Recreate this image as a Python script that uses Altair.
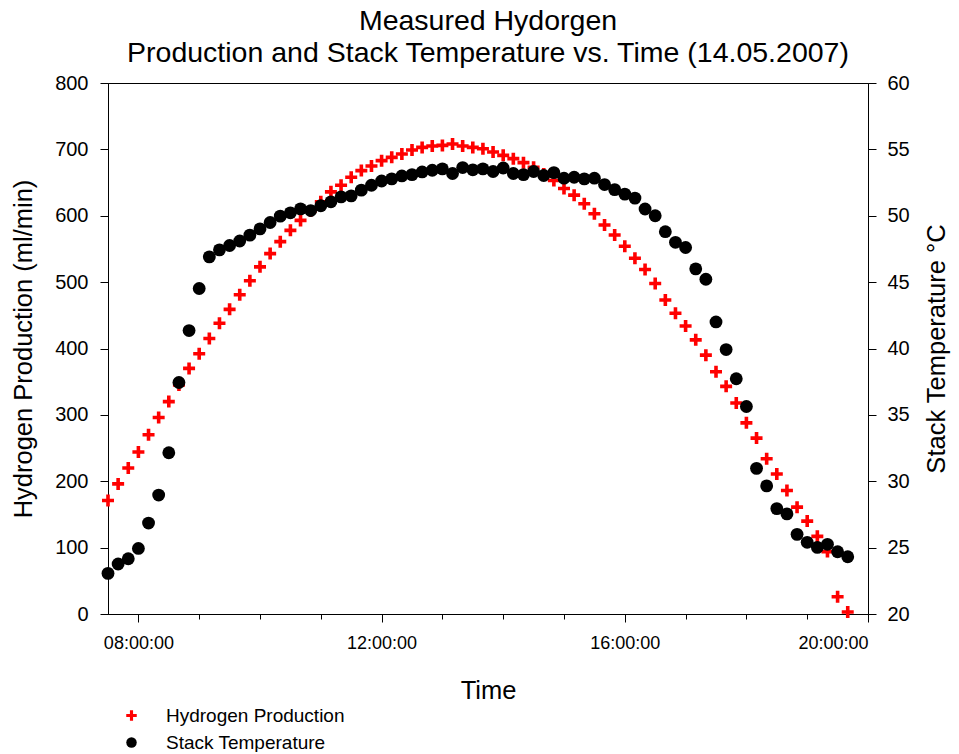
import altair as alt
import pandas as pd

times = [
    "07:30", "07:40", "07:50", "08:00", "08:10", "08:20", "08:30", "08:40", "08:50", "09:00",
    "09:10", "09:20", "09:30", "09:40", "09:50", "10:00", "10:10", "10:20", "10:30", "10:40",
    "10:50", "11:00", "11:10", "11:20", "11:30", "11:40", "11:50", "12:00", "12:10", "12:20",
    "12:30", "12:40", "12:50", "13:00", "13:10", "13:20", "13:30", "13:40", "13:50", "14:00",
    "14:10", "14:20", "14:30", "14:40", "14:50", "15:00", "15:10", "15:20", "15:30", "15:40",
    "15:50", "16:00", "16:10", "16:20", "16:30", "16:40", "16:50", "17:00", "17:10", "17:20",
    "17:30", "17:40", "17:50", "18:00", "18:10", "18:20", "18:30", "18:40", "18:50", "19:00",
    "19:10", "19:20", "19:30", "19:40",
]

hydrogen = [
    171, 196, 220, 244, 270, 296, 320, 345, 370, 392,
    415, 438, 459, 481, 502, 523, 543, 561, 578, 593,
    607, 621, 636, 646, 658, 668, 675, 683, 688, 693,
    699, 703, 705, 706, 708, 705, 703, 701, 696, 691,
    686, 680, 673, 663, 653, 641, 631, 618, 603, 586,
    571, 554, 536, 519, 498, 473, 453, 434, 413, 390,
    365, 343, 318, 288, 265, 234, 211, 186, 161, 140,
    117, 94, 26, 3,
]

temperature = [
    23.06, 23.77, 24.16, 24.94, 26.85, 28.96, 32.15, 37.44, 41.35, 44.52,
    46.90, 47.43, 47.76, 48.10, 48.54, 49.01, 49.49, 49.97, 50.22, 50.52,
    50.39, 50.75, 51.05, 51.42, 51.50, 51.93, 52.30, 52.62, 52.78, 53.00,
    53.10, 53.30, 53.43, 53.53, 53.18, 53.63, 53.46, 53.53, 53.33, 53.60,
    53.18, 53.10, 53.33, 53.03, 53.25, 52.83, 52.90, 52.78, 52.83, 52.35,
    51.97, 51.63, 51.33, 50.51, 50.00, 48.80, 48.00, 47.61, 46.00, 45.22,
    42.00, 39.92, 37.72, 35.63, 30.97, 29.65, 27.94, 27.54, 26.00, 25.40,
    25.02, 25.25, 24.69, 24.31,
]

series_names = ["Hydrogen Production", "Stack Temperature"]
series_colors = ["#ff0000", "#000000"]
x_ticks = list(range(8, 21))
left_ticks = list(range(0, 801, 100))
right_ticks = list(range(20, 61, 5))

CROSS = "M-1,-0.3H-0.3V-1H0.3V-0.3H1V0.3H0.3V1H-0.3V0.3H-1Z"
FONT = "Liberation Sans"


def to_hours(s):
    h, m = s.split(":")
    return int(h) + int(m) / 60.0


df = pd.DataFrame({
    "time": times,
    "hours": [to_hours(t) for t in times],
    "hydrogen": hydrogen,
    "temperature": temperature,
})

x_axis = alt.Axis(
    values=x_ticks,
    labelExpr="datum.value % 4 == 0 ? (datum.value < 10 ? '0' : '') + datum.value + ':00:00' : ''",
    tickSize={"condition": {"test": "datum.value % 4 == 0", "value": 8}, "value": 5},
    title="Time",
    labelFontSize=18,
    labelPadding=12,
    titlePadding=26,
    grid=False,
)
x_enc = alt.X("hours:Q", scale=alt.Scale(domain=[7.5, 20], nice=False, zero=False), axis=x_axis)

legend = alt.Legend(
    title=None, orient="none", legendX=14, legendY=623,
    symbolSize=110, labelFontSize=19, labelFont=FONT, labelOffset=25, labelLimit=400,
    rowPadding=7, padding=0, symbolStrokeWidth=0,
)
color_enc = alt.Color("series:N", scale=alt.Scale(domain=series_names, range=series_colors), legend=legend)
shape_enc = alt.Shape("series:N", scale=alt.Scale(domain=series_names, range=[CROSS, "circle"]), legend=legend)

h2 = alt.Chart(df).transform_calculate(series="'Hydrogen Production'").mark_point(
    filled=True, size=144, opacity=1, strokeWidth=0
).encode(
    x=x_enc,
    y=alt.Y("hydrogen:Q", scale=alt.Scale(domain=[0, 800], nice=False, zero=False),
            axis=alt.Axis(values=left_ticks, title="Hydrogen Production (ml/min)",
                          titlePadding=18, labelPadding=12, grid=False)),
    color=color_enc,
    shape=shape_enc,
)

temp = alt.Chart(df).transform_calculate(series="'Stack Temperature'").mark_point(
    filled=True, size=165, opacity=1, strokeWidth=0
).encode(
    x=x_enc,
    y=alt.Y("temperature:Q", scale=alt.Scale(domain=[20, 60], nice=False, zero=False),
            axis=alt.Axis(orient="right", values=right_ticks, title="Stack Temperature °C",
                          titleAngle=270, titlePadding=40, labelPadding=11, grid=False)),
    color=color_enc,
    shape=shape_enc,
)

chart = alt.layer(h2, temp).resolve_scale(y="independent").properties(
    width=760,
    height=531,
    autosize=alt.AutoSizeParams(type="none"),
    padding={"left": 100, "top": 75, "right": 83, "bottom": 138},
    title=alt.TitleParams(
        ["Measured Hydorgen", "Production and Stack Temperature vs. Time (14.05.2007)"],
        fontSize=28.5, font=FONT, fontWeight="normal", anchor="middle",
        lineHeight=32, offset=6, color="black",
    ),
).configure_view(
    stroke="black", strokeWidth=1
).configure_axis(
    domainColor="black", tickColor="black", labelColor="black", titleColor="black",
    labelFont=FONT, titleFont=FONT, labelFontSize=20, titleFontSize=25.5,
    titleFontWeight="normal", tickSize=8, domainWidth=1, tickWidth=1,
).configure_legend(
    labelColor="black"
)

chart.save("out.html", embed_options={"renderer": "svg", "actions": False})
